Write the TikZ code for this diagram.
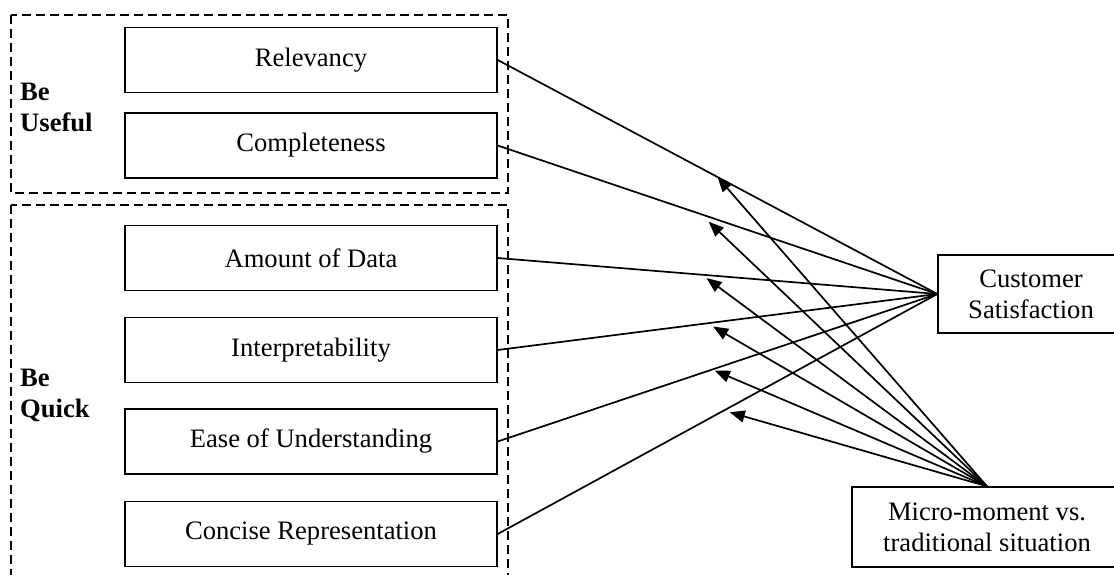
\documentclass[tikz,border=0pt]{standalone}
\usepackage{fontspec}
\setmainfont{Liberation Serif}
\usetikzlibrary{arrows.meta}
\newcommand\diagfont{\fontsize{26.6}{31}\selectfont}
\tikzset{
  factor/.style={draw, line width=1.4pt, minimum width=372pt, minimum height=65pt, inner sep=0pt},
  group/.style={draw, line width=1.3pt, dash pattern=on 9pt off 5pt},
  grouplabel/.style={anchor=west, align=left, inner sep=0pt, font=\diagfont\bfseries},
  outcome/.style={draw, line width=1.4pt, align=center, inner sep=0pt},
  link/.style={line width=1.7pt},
  moderator/.style={line width=1.7pt, -{Triangle[length=15pt,width=12pt]}},
}
\begin{document}
\begin{tikzpicture}[x=1pt, y=-1pt, font=\diagfont]
  \clip (0,0) rectangle (1114,575);
  \draw[group] (11,15) rectangle (508,193);
  \draw[group] (11,205) rectangle (508,600);
  \node[grouplabel] (useful) at (20,107) {Be\\Useful};
  \node[grouplabel] (quick) at (20,395) {Be\\Quick};
  \node[factor] (rel) at (311,60) {Relevancy};
  \node[factor] (com) at (311,145.5) {Completeness};
  \node[factor] (amo) at (311,258) {Amount of Data};
  \node[factor] (int) at (311,350) {Interpretability};
  \node[factor] (eas) at (311,441.5) {Ease of Understanding};
  \node[factor] (con) at (311,534) {Concise Representation};
  \node[outcome, minimum width=186pt, minimum height=78pt] (cs) at (1031,294) {Customer\\Satisfaction};
  \node[outcome, minimum width=270pt, minimum height=80pt] (mm) at (987,527) {Micro-moment vs.\\traditional situation};
  \foreach \f/\p/\s in {rel/0.50/0, com/0.48/-5, amo/0.475/-3, int/0.49/-4, eas/0.494/-2, con/0.528/-5} {
    \draw[link] (\f.east) -- coordinate[pos=\p, yshift=\s pt] (\f-m) (cs.west);
    \draw[moderator] (mm.north) -- (\f-m);
  }
\end{tikzpicture}
\end{document}
